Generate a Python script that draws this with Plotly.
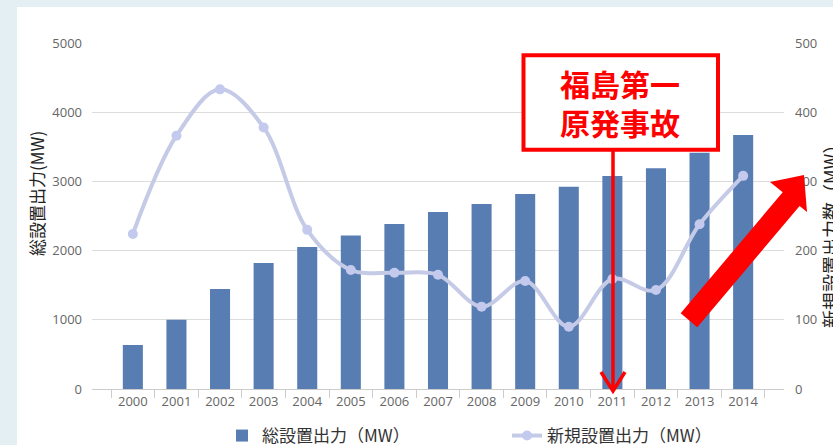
import plotly.graph_objects as go

years = [str(y) for y in range(2000, 2015)]
total_mw = [637, 1000, 1445, 1821, 2052, 2220, 2385, 2557, 2673, 2818, 2923, 3078, 3189, 3415, 3671]
new_mw = [224, 366, 433, 378, 230, 172, 168, 165, 119, 156, 90, 159, 143, 238, 308]
left_ticks = [0, 1000, 2000, 3000, 4000, 5000]
right_ticks = [0, 100, 200, 300, 400, 500]

W, H = 833, 445
L, R, T, B = 92, 784, 43, 389
PW, PH = R - L, B - T

def px(x):
    return (x - L) / PW

def py(y):
    return (B - y) / PH

JP = "Noto Sans CJK JP"
TICKF = dict(family="Open Sans, " + JP, size=13, color="#666666")

fig = go.Figure()
fig.add_trace(go.Bar(
    x=years, y=total_mw, name="総設置出力（MW）",
    marker=dict(color="#587db2", line=dict(width=0)),
    yaxis="y",
))
fig.add_trace(go.Scatter(
    x=years, y=new_mw, name="新規設置出力（MW）", mode="lines+markers",
    line=dict(color="#c5cae6", width=4, shape="spline", smoothing=1),
    marker=dict(color="#c3caee", size=10),
    yaxis="y2",
))

shapes = [
    # background card
    dict(type="rect", xref="paper", yref="paper", x0=px(17), x1=px(900), y0=py(7), y1=py(500),
         fillcolor="white", line=dict(width=0), layer="below"),
    # annotation box
    dict(type="rect", xref="paper", yref="paper", x0=px(523.5), x1=px(718), y0=py(55.3), y1=py(149.7),
         fillcolor="white", line=dict(color="#ff0000", width=4), layer="above"),
    # vertical arrow line
    dict(type="line", xref="paper", yref="paper", x0=px(613), x1=px(613), y0=py(151), y1=py(390),
         line=dict(color="#ff0000", width=3.5), layer="above"),
    dict(type="path", xref="paper", yref="paper",
         path=f"M {px(601)},{py(372)} L {px(613)},{py(391)} L {px(625)},{py(372)}",
         line=dict(color="#ff0000", width=3.5), layer="above"),
    # big arrow
    dict(type="path", xref="paper", yref="paper",
         path=(f"M {px(680.7)},{py(313.3)} L {px(782.7)},{py(192.3)} L {px(770)},{py(182)} "
               f"L {px(804)},{py(175)} L {px(807)},{py(212)} L {px(799.6)},{py(206)} "
               f"L {px(697.3)},{py(327.3)} Z"),
         fillcolor="#ff0000", line=dict(width=0), layer="above"),
]

annotations = [
    dict(text="福島第一<br>原発事故", xref="paper", yref="paper", x=px(620), y=py(102), showarrow=False,
         font=dict(family=JP, size=30, color="#ff0000", weight="bold"), xanchor="center", yanchor="middle"),
    dict(text="総設置出力(MW)", xref="paper", yref="paper", x=px(36), y=py(194), showarrow=False,
         textangle=-90, font=dict(family=JP, size=17, color="#222222"), xanchor="center", yanchor="middle"),
    dict(text="新規設置出力数（MW）", xref="paper", yref="paper", x=px(830), y=py(232), showarrow=False,
         textangle=-90, font=dict(family=JP, size=18, color="#222222"), xanchor="center", yanchor="middle"),
]

fig.update_layout(
    width=W, height=H,
    margin=dict(l=L, r=W - R, t=T, b=H - B, pad=0, autoexpand=False),
    paper_bgcolor="#e3eff2", plot_bgcolor="white",
    bargap=0.54,
    showlegend=True,
    legend=dict(orientation="h", x=px(222), xanchor="left", y=py(436), yanchor="middle",
                font=dict(family=JP, size=17, color="#333333"), bgcolor="rgba(0,0,0,0)",
                entrywidth=240, itemwidth=30),
    xaxis=dict(type="category", showgrid=False, showline=True, linecolor="#cccccc", linewidth=1,
               ticks="outside", tickson="boundaries", ticklen=8, tickcolor="#cccccc",
               tickfont=TICKF, automargin=False),
    yaxis=dict(range=[0, 5000], tickvals=left_ticks, gridcolor="#dcdcdc", gridwidth=1,
               showline=False, zeroline=False, tickfont=TICKF, ticklabelstandoff=9, automargin=False),
    yaxis2=dict(range=[0, 500], tickvals=right_ticks, overlaying="y", side="right",
                showgrid=False, showline=False, zeroline=False, tickfont=TICKF, ticklabelstandoff=10,
                automargin=False),
    shapes=shapes,
    annotations=annotations,
)

fig.write_html("out.html")
